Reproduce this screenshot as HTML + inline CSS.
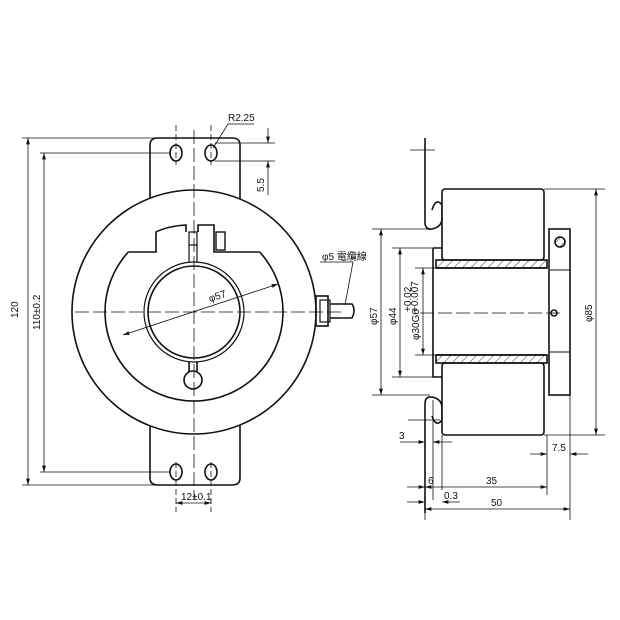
<!DOCTYPE html>
<html><head><style>
html,body{margin:0;padding:0;background:#fff}
svg{display:block}
text{font-family:"Liberation Sans","Noto Sans CJK TC",sans-serif;font-size:10px;fill:#111}
</style></head><body>
<svg width="620" height="620" viewBox="0 0 620 620" xmlns="http://www.w3.org/2000/svg">
<defs>
<marker id="a" viewBox="0 0 10 6" refX="10" refY="3" markerWidth="8" markerHeight="5" orient="auto-start-reverse"><path d="M0,0L10,3L0,6z" fill="#111"/></marker>
<pattern id="h" width="6" height="6" patternUnits="userSpaceOnUse" patternTransform="rotate(45)"><line x1="0" y1="0" x2="0" y2="6" stroke="#111" stroke-width="0.8"/></pattern>
</defs>
<g fill="none" stroke="#111" stroke-width="1.6">
<path d="M150,200 L150,145 Q150,138 158,138 L232,138 Q240,138 240,145 L240,200"/>
<path d="M150,425 L150,478 Q150,485 158,485 L232,485 Q240,485 240,478 L240,425"/>
<circle cx="194" cy="312" r="122" fill="#fff"/>
<path d="M128.3,252 A89,89 0 1 0 259.7,252"/>
<circle cx="194" cy="312" r="50" stroke-width="1.2"/>
<circle cx="194" cy="312" r="46"/>
<ellipse cx="176" cy="153" rx="6" ry="8"/><ellipse cx="211" cy="153" rx="6" ry="8"/>
<ellipse cx="176" cy="472" rx="6" ry="8"/><ellipse cx="211" cy="472" rx="6" ry="8"/>
<path d="M128.3,252 L156,252 L156,232 Q168,226 186,225 L186,232 M198,232 L198,225 L214,225 L214,252 L259.7,252"/>
<rect x="189" y="232" width="8" height="13" stroke-width="1.2"/>
<rect x="216" y="232" width="9" height="18" stroke-width="1.4"/>
<path d="M189,245 L189,262 M197,245 L197,262" stroke-width="1.2"/>
<path d="M189,362 L189,372 M197,362 L197,372"/>
<circle cx="193" cy="380" r="9"/>
<rect x="316" y="296" width="12" height="30"/>
<rect x="320" y="300" width="10" height="22" stroke-width="1.2"/>
<path d="M330,304 L352,304 Q356,310 352,318 L330,318"/>
</g>
<g fill="none" stroke="#111" stroke-width="0.8">
<path d="M75,312 L345,312" stroke-dasharray="14,4"/>
<path d="M194,130 L194,500" stroke-dasharray="14,4"/>
<path d="M176,125 L176,165 M211,125 L211,165 M176,462 L176,512 M211,462 L211,512" stroke-dasharray="6,3"/>
<line x1="123" y1="335" x2="278" y2="284" marker-start="url(#a)" marker-end="url(#a)"/>
<path d="M22,138 L170,138 M40,153 L170,153 M40,472 L170,472 M22,485 L170,485"/>
<line x1="28" y1="138" x2="28" y2="485" marker-start="url(#a)" marker-end="url(#a)"/>
<line x1="44" y1="153" x2="44" y2="472" marker-start="url(#a)" marker-end="url(#a)"/>
<line x1="176" y1="503" x2="211" y2="503" marker-start="url(#a)" marker-end="url(#a)"/>
<path d="M215,143 L275,143 M215,161 L275,161"/>
<line x1="268" y1="128" x2="268" y2="143" marker-end="url(#a)"/>
<line x1="268" y1="176" x2="268" y2="161" marker-end="url(#a)"/>
<line x1="268" y1="176" x2="268" y2="195"/>
<path d="M254,124 L228,124 L213,148"/>
<path d="M320,262 L353,262 L345,305"/>
</g>
<text x="228" y="121">R2.25</text>
<text transform="translate(264,192) rotate(-90)">5.5</text>
<text transform="translate(18,318) rotate(-90)">120</text>
<text transform="translate(40,330) rotate(-90)">110±0.2</text>
<text x="181" y="500" font-size="9">12±0.1</text>
<text transform="translate(210,302) rotate(-18)">φ57</text>
<text x="322" y="260" font-size="8.5">φ5 電纜線</text>

<g fill="none" stroke="#111" stroke-width="1.6">
<path d="M425,138 L425,222 Q425,230 432,229 Q442,227 442,218 L442,205 Q436,197 432,210"/>
<path d="M425,513 L425,404 Q425,396 432,397 Q442,399 442,408 L442,420 Q436,428 432,416"/>
<rect x="442" y="189" width="102" height="71" rx="3" fill="#fff"/>
<rect x="442" y="363" width="102" height="72" rx="3" fill="#fff"/>
<path d="M433,248 L442,248 M433,248 L433,377 L442,377"/>
<rect x="436" y="260" width="111" height="8" fill="url(#h)"/>
<rect x="436" y="355" width="111" height="8" fill="url(#h)"/>
<path d="M436,268 L547,268 M436,355 L547,355"/>
<rect x="549" y="229" width="21" height="166"/>
<circle cx="560" cy="242" r="5" fill="url(#h)"/>
<path d="M550,270 L570,270 M550,352 L570,352" stroke-width="1"/>
<circle cx="554" cy="313" r="3"/>
</g>
<g fill="none" stroke="#111" stroke-width="0.8">
<path d="M420,313 L560,313" stroke-dasharray="14,4"/>
<path d="M410,150 L435,150 M408,420 L440,420"/>
<path d="M544,189 L605,189 M544,435 L605,435"/>
<line x1="596" y1="189" x2="596" y2="435" marker-start="url(#a)" marker-end="url(#a)"/>
<path d="M372,229 L430,229 M372,395 L430,395"/>
<line x1="381" y1="229" x2="381" y2="395" marker-start="url(#a)" marker-end="url(#a)"/>
<path d="M392,248 L433,248 M392,377 L433,377"/>
<line x1="400" y1="248" x2="400" y2="377" marker-start="url(#a)" marker-end="url(#a)"/>
<path d="M415,268 L436,268 M415,355 L436,355"/>
<line x1="423" y1="268" x2="423" y2="355" marker-start="url(#a)" marker-end="url(#a)"/>
<path d="M425,435 L425,520 M433,400 L433,500 M442,435 L442,490 M547,435 L547,495 M570,395 L570,520"/>
<line x1="400" y1="442" x2="425" y2="442" marker-end="url(#a)"/>
<line x1="452" y1="442" x2="433" y2="442" marker-end="url(#a)"/>
<line x1="530" y1="454" x2="547" y2="454" marker-end="url(#a)"/>
<line x1="588" y1="454" x2="570" y2="454" marker-end="url(#a)"/>
<line x1="407" y1="487" x2="425" y2="487" marker-end="url(#a)"/>
<line x1="425" y1="487" x2="547" y2="487" marker-start="url(#a)" marker-end="url(#a)"/>
<line x1="407" y1="502" x2="425" y2="502" marker-end="url(#a)"/>
<line x1="460" y1="502" x2="442" y2="502" marker-end="url(#a)"/>
<line x1="425" y1="509" x2="570" y2="509" marker-start="url(#a)" marker-end="url(#a)"/>
</g>
<text x="399" y="439">3</text>
<text x="552" y="451">7.5</text>
<text x="428" y="484">6</text>
<text x="486" y="484">35</text>
<text x="444" y="499">0.3</text>
<text x="491" y="506">50</text>
<text transform="translate(377,325) rotate(-90)">φ57</text>
<text transform="translate(396,325) rotate(-90)">φ44</text>
<text transform="translate(419,340) rotate(-90)">φ30G6</text>
<text transform="translate(411,312) rotate(-90)" font-size="6">+0.02</text>
<text transform="translate(418,312) rotate(-90)" font-size="6">+0.007</text>
<text transform="translate(592,322) rotate(-90)">φ85</text>
</svg>
</body></html>
